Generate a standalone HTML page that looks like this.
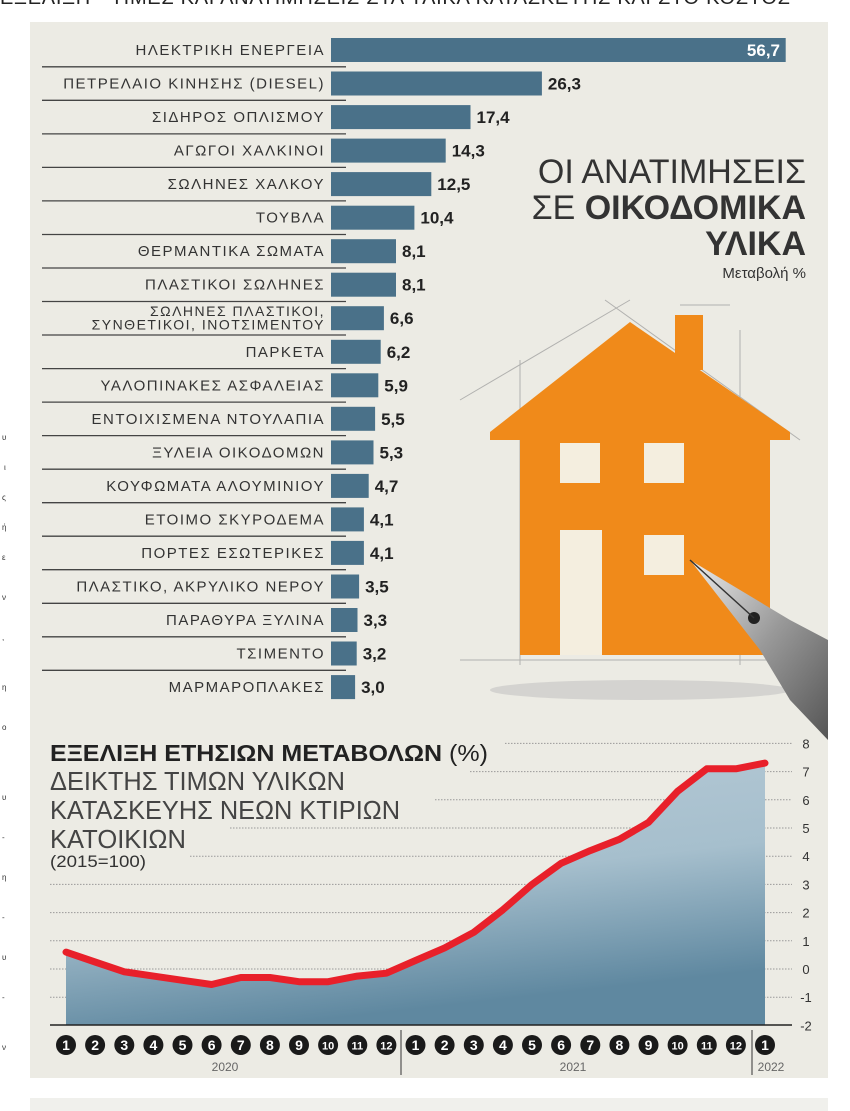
<!DOCTYPE html>
<html><head><meta charset="utf-8"><style>
body{margin:0;background:#fff;}
svg{display:block;font-family:"Liberation Sans","DejaVu Sans",sans-serif;}
</style></head><body>
<svg width="850" height="1111" viewBox="0 0 850 1111" xmlns="http://www.w3.org/2000/svg">
<defs>
<linearGradient id="ag" x1="0" y1="0" x2="0.3" y2="1">
<stop offset="0" stop-color="#b7cad6"/><stop offset="0.55" stop-color="#a6bfcd"/><stop offset="1" stop-color="#5f88a0"/>
</linearGradient>
<linearGradient id="pen" x1="0" y1="0" x2="1" y2="1">
<stop offset="0" stop-color="#eee"/><stop offset="0.5" stop-color="#999"/><stop offset="1" stop-color="#555"/>
</linearGradient>
</defs>
<rect x="0" y="0" width="850" height="1111" fill="#fff"/>
<text x="0" y="4" font-size="20" fill="#222" textLength="790">ΕΞΕΛΙΞΗ • ΤΙΜΕΣ ΚΑΙ ΑΝΑΤΙΜΗΣΕΙΣ ΣΤΑ ΥΛΙΚΑ ΚΑΤΑΣΚΕΥΗΣ ΚΑΙ ΣΤΟ ΚΟΣΤΟΣ</text>
<rect x="30" y="22" width="798" height="1056" fill="#ecebe4"/>
<rect x="30" y="1098" width="798" height="13" fill="#f0f0ec"/>
<g font-size="8" fill="#333">
<text x="2" y="440">υ</text><text x="4" y="470">ι</text><text x="2" y="500">ς</text><text x="2" y="530">ή</text><text x="2" y="560">ε</text><text x="2" y="600">ν</text><text x="2" y="640">,</text><text x="2" y="690">η</text><text x="2" y="730">ο</text><text x="2" y="800">υ</text><text x="2" y="840">-</text><text x="2" y="880">η</text><text x="2" y="920">-</text><text x="2" y="960">υ</text><text x="2" y="1000">-</text><text x="2" y="1050">ν</text>
</g>
<!-- house -->
<g stroke="#999" stroke-width="1" fill="none" opacity="0.7">
<line x1="460" y1="400" x2="630" y2="300"/><line x1="605" y1="300" x2="800" y2="440"/>
<line x1="520" y1="360" x2="520" y2="665"/><line x1="740" y1="330" x2="740" y2="665"/>
<line x1="460" y1="660" x2="800" y2="660"/><line x1="680" y1="305" x2="730" y2="305"/>
</g>
<polygon points="490,432 630,322 790,432 790,440 770,440 770,655 520,655 520,440 490,440" fill="#f08a1a"/>
<rect x="675" y="315" width="28" height="55" fill="#f08a1a"/>
<rect x="560" y="443" width="40" height="40" fill="#f4eedf"/>
<rect x="644" y="443" width="40" height="40" fill="#f4eedf"/>
<rect x="560" y="530" width="42" height="125" fill="#f4eedf"/>
<rect x="644" y="535" width="40" height="40" fill="#f4eedf"/>
<ellipse cx="640" cy="690" rx="150" ry="10" fill="#bbb" opacity="0.5"/>
<polygon points="690,560 790,620 828,640 828,740 790,700 760,650" fill="url(#pen)"/>
<circle cx="754" cy="618" r="6" fill="#222"/>
<line x1="690" y1="560" x2="754" y2="618" stroke="#333" stroke-width="1.5"/>
<!-- title -->
<g fill="#333" text-anchor="end">
<text x="806" y="183" font-size="34">ΟΙ ΑΝΑΤΙΜΗΣΕΙΣ</text>
<text x="806" y="219" font-size="34"><tspan>ΣΕ </tspan><tspan font-weight="bold">ΟΙΚΟΔΟΜΙΚΑ</tspan></text>
<text x="806" y="255" font-size="34" font-weight="bold">ΥΛΙΚΑ</text>
<text x="806" y="278" font-size="15">Μεταβολή %</text>
</g>
<!-- bars -->
<g fill="#4a7189">
<rect x="331" y="38" width="454.7" height="24"/>
<rect x="331" y="71.5" width="210.9" height="24"/>
<rect x="331" y="105.1" width="139.5" height="24"/>
<rect x="331" y="138.6" width="114.7" height="24"/>
<rect x="331" y="172.1" width="100.3" height="24"/>
<rect x="331" y="205.7" width="83.4" height="24"/>
<rect x="331" y="239.2" width="65" height="24"/>
<rect x="331" y="272.7" width="65" height="24"/>
<rect x="331" y="306.2" width="52.9" height="24"/>
<rect x="331" y="339.8" width="49.7" height="24"/>
<rect x="331" y="373.3" width="47.3" height="24"/>
<rect x="331" y="406.8" width="44.1" height="24"/>
<rect x="331" y="440.4" width="42.5" height="24"/>
<rect x="331" y="473.9" width="37.7" height="24"/>
<rect x="331" y="507.4" width="32.9" height="24"/>
<rect x="331" y="540.9" width="32.9" height="24"/>
<rect x="331" y="574.5" width="28.1" height="24"/>
<rect x="331" y="608" width="26.5" height="24"/>
<rect x="331" y="641.5" width="25.7" height="24"/>
<rect x="331" y="675.1" width="24.1" height="24"/>
</g>
<g stroke="#444" stroke-width="1.3">
<line x1="42" x2="346" y1="66.8" y2="66.8"/><line x1="42" x2="346" y1="100.3" y2="100.3"/><line x1="42" x2="346" y1="133.9" y2="133.9"/><line x1="42" x2="346" y1="167.4" y2="167.4"/><line x1="42" x2="346" y1="200.9" y2="200.9"/><line x1="42" x2="346" y1="234.5" y2="234.5"/><line x1="42" x2="346" y1="268" y2="268"/><line x1="42" x2="346" y1="301.5" y2="301.5"/><line x1="42" x2="346" y1="335" y2="335"/><line x1="42" x2="346" y1="368.6" y2="368.6"/><line x1="42" x2="346" y1="402.1" y2="402.1"/><line x1="42" x2="346" y1="435.6" y2="435.6"/><line x1="42" x2="346" y1="469.2" y2="469.2"/><line x1="42" x2="346" y1="502.7" y2="502.7"/><line x1="42" x2="346" y1="536.2" y2="536.2"/><line x1="42" x2="346" y1="569.7" y2="569.7"/><line x1="42" x2="346" y1="603.3" y2="603.3"/><line x1="42" x2="346" y1="636.8" y2="636.8"/><line x1="42" x2="346" y1="670.3" y2="670.3"/>
</g>
<g font-size="15" fill="#333" text-anchor="end" letter-spacing="1.5">
<text x="325" y="55">ΗΛΕΚΤΡΙΚΗ ΕΝΕΡΓΕΙΑ</text>
<text x="325" y="88.5">ΠΕΤΡΕΛΑΙΟ ΚΙΝΗΣΗΣ (DIESEL)</text>
<text x="325" y="122.1">ΣΙΔΗΡΟΣ ΟΠΛΙΣΜΟΥ</text>
<text x="325" y="155.6">ΑΓΩΓΟΙ ΧΑΛΚΙΝΟΙ</text>
<text x="325" y="189.1">ΣΩΛΗΝΕΣ ΧΑΛΚΟΥ</text>
<text x="325" y="222.7">ΤΟΥΒΛΑ</text>
<text x="325" y="256.2">ΘΕΡΜΑΝΤΙΚΑ ΣΩΜΑΤΑ</text>
<text x="325" y="289.7">ΠΛΑΣΤΙΚΟΙ ΣΩΛΗΝΕΣ</text>
<text x="325" y="316.2" font-size="14">ΣΩΛΗΝΕΣ ΠΛΑΣΤΙΚΟΙ,</text>
<text x="325" y="329.6" font-size="14">ΣΥΝΘΕΤΙΚΟΙ, ΙΝΟΤΣΙΜΕΝΤΟΥ</text>
<text x="325" y="356.8">ΠΑΡΚΕΤΑ</text>
<text x="325" y="390.3">ΥΑΛΟΠΙΝΑΚΕΣ ΑΣΦΑΛΕΙΑΣ</text>
<text x="325" y="423.8">ΕΝΤΟΙΧΙΣΜΕΝΑ ΝΤΟΥΛΑΠΙΑ</text>
<text x="325" y="457.4">ΞΥΛΕΙΑ ΟΙΚΟΔΟΜΩΝ</text>
<text x="325" y="490.9">ΚΟΥΦΩΜΑΤΑ ΑΛΟΥΜΙΝΙΟΥ</text>
<text x="325" y="524.4">ΕΤΟΙΜΟ ΣΚΥΡΟΔΕΜΑ</text>
<text x="325" y="557.9">ΠΟΡΤΕΣ ΕΣΩΤΕΡΙΚΕΣ</text>
<text x="325" y="591.5">ΠΛΑΣΤΙΚΟ, ΑΚΡΥΛΙΚΟ ΝΕΡΟΥ</text>
<text x="325" y="625">ΠΑΡΑΘΥΡΑ ΞΥΛΙΝΑ</text>
<text x="325" y="658.5">ΤΣΙΜΕΝΤΟ</text>
<text x="325" y="692.1">ΜΑΡΜΑΡΟΠΛΑΚΕΣ</text>
</g>
<text x="780" y="56" text-anchor="end" font-weight="bold" font-size="17" fill="#fff">56,7</text>
<g font-weight="bold" font-size="17" fill="#222">
<text x="547.9" y="89.5">26,3</text>
<text x="476.5" y="123.1">17,4</text>
<text x="451.7" y="156.6">14,3</text>
<text x="437.3" y="190.1">12,5</text>
<text x="420.4" y="223.7">10,4</text>
<text x="402" y="257.2">8,1</text>
<text x="402" y="290.7">8,1</text>
<text x="389.9" y="324.2">6,6</text>
<text x="386.7" y="357.8">6,2</text>
<text x="384.3" y="391.3">5,9</text>
<text x="381.1" y="424.8">5,5</text>
<text x="379.5" y="458.4">5,3</text>
<text x="374.7" y="491.9">4,7</text>
<text x="369.9" y="525.4">4,1</text>
<text x="369.9" y="558.9">4,1</text>
<text x="365.1" y="592.5">3,5</text>
<text x="363.5" y="626">3,3</text>
<text x="362.7" y="659.5">3,2</text>
<text x="361.1" y="693.1">3,0</text>
</g>
<!-- line chart -->
<g stroke="#999" stroke-width="1" stroke-dasharray="1.5,1.5">
<line x1="505" x2="792" y1="743.4" y2="743.4"/><line x1="470" x2="792" y1="771.6" y2="771.6"/><line x1="435" x2="792" y1="799.8" y2="799.8"/><line x1="230" x2="792" y1="828" y2="828"/><line x1="190" x2="792" y1="856.2" y2="856.2"/><line x1="50" x2="792" y1="884.4" y2="884.4"/><line x1="50" x2="792" y1="912.6" y2="912.6"/><line x1="50" x2="792" y1="940.8" y2="940.8"/><line x1="50" x2="792" y1="969" y2="969"/><line x1="50" x2="792" y1="997.2" y2="997.2"/>
</g>
<g font-size="13" fill="#333" text-anchor="middle">
<text x="806" y="748.4">8</text><text x="806" y="776.6">7</text><text x="806" y="804.8">6</text><text x="806" y="833">5</text><text x="806" y="861.2">4</text><text x="806" y="889.4">3</text><text x="806" y="917.6">2</text><text x="806" y="945.8">1</text><text x="806" y="974">0</text><text x="806" y="1002.2">-1</text><text x="806" y="1030.4">-2</text>
</g>
<polygon points="66,1025 66,952.1 95.1,962 124.3,971.8 153.4,976.1 182.5,980.3 211.6,984.5 240.8,977.5 269.9,977.5 299,981.7 328.1,981.7 357.3,976.1 386.4,973.2 415.5,960.5 444.6,947.9 473.8,932.3 502.9,909.8 532,884.4 561.1,863.3 590.3,850.6 619.4,839.3 648.5,822.4 677.6,791.3 706.8,768.8 735.9,768.8 765,763.1 765,1025" fill="url(#ag)"/>
<polyline points="66,952.1 95.1,962 124.3,971.8 153.4,976.1 182.5,980.3 211.6,984.5 240.8,977.5 269.9,977.5 299,981.7 328.1,981.7 357.3,976.1 386.4,973.2 415.5,960.5 444.6,947.9 473.8,932.3 502.9,909.8 532,884.4 561.1,863.3 590.3,850.6 619.4,839.3 648.5,822.4 677.6,791.3 706.8,768.8 735.9,768.8 765,763.1" fill="none" stroke="#e8202a" stroke-width="7" stroke-linejoin="round" stroke-linecap="round"/>
<line x1="50" x2="792" y1="1025" y2="1025" stroke="#222" stroke-width="1.5"/>
<g fill="#1a1a1a">
<circle cx="66" cy="1045" r="10"/><circle cx="95.1" cy="1045" r="10"/><circle cx="124.3" cy="1045" r="10"/><circle cx="153.4" cy="1045" r="10"/><circle cx="182.5" cy="1045" r="10"/><circle cx="211.6" cy="1045" r="10"/><circle cx="240.8" cy="1045" r="10"/><circle cx="269.9" cy="1045" r="10"/><circle cx="299" cy="1045" r="10"/><circle cx="328.1" cy="1045" r="10"/><circle cx="357.3" cy="1045" r="10"/><circle cx="386.4" cy="1045" r="10"/><circle cx="415.5" cy="1045" r="10"/><circle cx="444.6" cy="1045" r="10"/><circle cx="473.8" cy="1045" r="10"/><circle cx="502.9" cy="1045" r="10"/><circle cx="532" cy="1045" r="10"/><circle cx="561.1" cy="1045" r="10"/><circle cx="590.3" cy="1045" r="10"/><circle cx="619.4" cy="1045" r="10"/><circle cx="648.5" cy="1045" r="10"/><circle cx="677.6" cy="1045" r="10"/><circle cx="706.8" cy="1045" r="10"/><circle cx="735.9" cy="1045" r="10"/><circle cx="765" cy="1045" r="10"/>
</g>
<g font-size="14" font-weight="bold" fill="#fff" text-anchor="middle">
<text x="66" y="1050">1</text><text x="95.1" y="1050">2</text><text x="124.3" y="1050">3</text><text x="153.4" y="1050">4</text><text x="182.5" y="1050">5</text><text x="211.6" y="1050">6</text><text x="240.8" y="1050">7</text><text x="269.9" y="1050">8</text><text x="299" y="1050">9</text>
<text x="328.1" y="1049.5" font-size="11">10</text><text x="357.3" y="1049.5" font-size="11">11</text><text x="386.4" y="1049.5" font-size="11">12</text>
<text x="415.5" y="1050">1</text><text x="444.6" y="1050">2</text><text x="473.8" y="1050">3</text><text x="502.9" y="1050">4</text><text x="532" y="1050">5</text><text x="561.1" y="1050">6</text><text x="590.3" y="1050">7</text><text x="619.4" y="1050">8</text><text x="648.5" y="1050">9</text>
<text x="677.6" y="1049.5" font-size="11">10</text><text x="706.8" y="1049.5" font-size="11">11</text><text x="735.9" y="1049.5" font-size="11">12</text><text x="765" y="1050">1</text>
</g>
<line x1="401" x2="401" y1="1030" y2="1075" stroke="#333"/><line x1="752" x2="752" y1="1030" y2="1075" stroke="#333"/>
<g font-size="12" fill="#666" text-anchor="middle"><text x="225" y="1071">2020</text><text x="573" y="1071">2021</text><text x="771" y="1071">2022</text></g>
<text x="50" y="761" font-size="23" fill="#222" textLength="438" lengthAdjust="spacingAndGlyphs"><tspan font-weight="bold">ΕΞΕΛΙΞΗ ΕΤΗΣΙΩΝ ΜΕΤΑΒΟΛΩΝ</tspan><tspan> (%)</tspan></text>
<g font-size="26" fill="#444">
<text x="50" y="790" textLength="295" lengthAdjust="spacingAndGlyphs">ΔΕΙΚΤΗΣ ΤΙΜΩΝ ΥΛΙΚΩΝ</text>
<text x="50" y="819" textLength="350" lengthAdjust="spacingAndGlyphs">ΚΑΤΑΣΚΕΥΗΣ ΝΕΩΝ ΚΤΙΡΙΩΝ</text>
<text x="50" y="848" textLength="136" lengthAdjust="spacingAndGlyphs">ΚΑΤΟΙΚΙΩΝ</text>
</g>
<text x="50" y="867" font-size="17" fill="#333" textLength="96" lengthAdjust="spacingAndGlyphs">(2015=100)</text>
</svg>
</body></html>
